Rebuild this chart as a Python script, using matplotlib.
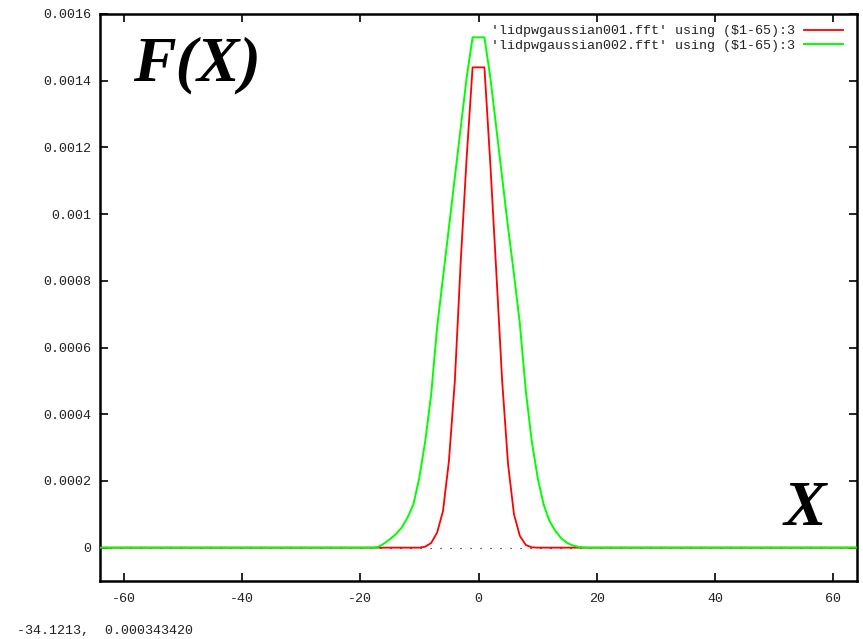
import matplotlib
matplotlib.use("Agg")
import matplotlib.pyplot as plt

# curve values (x = $1-65)
x_pts = [-64] + list(range(-20, 21)) + [64]

red_vals = [0, 0, 0, 0, 0, 0, 0, 0, 0, 0, 0,
            0.000003, 0.000014, 0.000045, 0.00011, 0.00026, 0.00050, 0.00086, 0.00117, 0.00144,
            0.00144,
            0.00144, 0.00115, 0.00083, 0.00050, 0.00025, 0.00010, 0.000035, 0.000008, 0.000001,
            0, 0, 0, 0, 0, 0, 0, 0, 0, 0, 0]

green_vals = [0, 0, 0,
              0.000002, 0.000012, 0.000025, 0.000040, 0.000060, 0.000090, 0.00013, 0.00021,
              0.00032, 0.00046, 0.00066, 0.00081, 0.00096, 0.00111, 0.00126, 0.00141, 0.00153,
              0.00153,
              0.00153, 0.00141, 0.00126, 0.00111, 0.00096, 0.00082, 0.00067, 0.00047, 0.00032,
              0.00021, 0.00013, 0.000080, 0.000050, 0.000028, 0.000014, 0.000006, 0.000002,
              0, 0, 0]

red_y = [0] + red_vals + [0]
green_y = [0] + green_vals + [0]

labels = ["'lidpwgaussian001.fft' using ($1-65):3",
          "'lidpwgaussian002.fft' using ($1-65):3"]

x_ticks = [-60, -40, -20, 0, 20, 40, 60]
y_ticks = [0, 0.0002, 0.0004, 0.0006, 0.0008, 0.001, 0.0012, 0.0014, 0.0016]
y_tick_labels = ["0", "0.0002", "0.0004", "0.0006", "0.0008", "0.001", "0.0012", "0.0014", "0.0016"]

mono = "Liberation Mono"
fs = 9.6

fig = plt.figure(figsize=(8.63, 6.39), dpi=100)
ax = fig.add_axes([100 / 863, 1 - 581 / 639, 757 / 863, 567 / 639])

# dotted zero axis under the curves
ax.axhline(0, color="black", lw=0.8, ls=(0, (1, 8)), zorder=1)
ax.plot(x_pts, red_y, color="#ff0000", lw=1.3, label=labels[0], zorder=2)
ax.plot(x_pts, green_y, color="#00ff00", lw=1.4, label=labels[1], zorder=3)

ax.set_xlim(-64, 64)
ax.set_ylim(-0.0001, 0.0016)
ax.set_xticks(x_ticks)
ax.set_xticklabels([str(v) for v in x_ticks], fontfamily=mono, fontsize=fs, color="#222222")
ax.set_yticks(y_ticks)
ax.set_yticklabels(y_tick_labels, fontfamily=mono, fontsize=fs, color="#222222")
ax.tick_params(axis="x", direction="in", length=6, width=1.2, top=True, pad=9)
ax.tick_params(axis="y", direction="in", length=6, width=1.2, right=True, pad=6)
for sp in ax.spines.values():
    sp.set_linewidth(1.8)

leg = ax.legend(loc="upper right", bbox_to_anchor=(843 / 863, 1 - 25 / 639),
                bbox_transform=fig.transFigure, frameon=False, markerfirst=False,
                prop={"family": mono, "size": fs}, handlelength=2.9,
                handletextpad=0.7, labelspacing=0.15, borderpad=0, borderaxespad=0)
for t in leg.get_texts():
    t.set_color("#222222")

serif = {"family": "Liberation Serif", "weight": "bold", "style": "italic", "size": 46}
fig.text(133 / 863, 1 - 80 / 639, "F(X)", fontdict=serif, va="baseline", ha="left")
fig.text(784 / 863, 1 - 525 / 639, "X", fontdict=serif, va="baseline", ha="left")

fig.text(17 / 863, 1 - 631 / 639, "-34.1213,  0.000343420",
         fontfamily=mono, fontsize=fs, color="#222222", va="center", ha="left")

plt.savefig("out.png", dpi=100)
